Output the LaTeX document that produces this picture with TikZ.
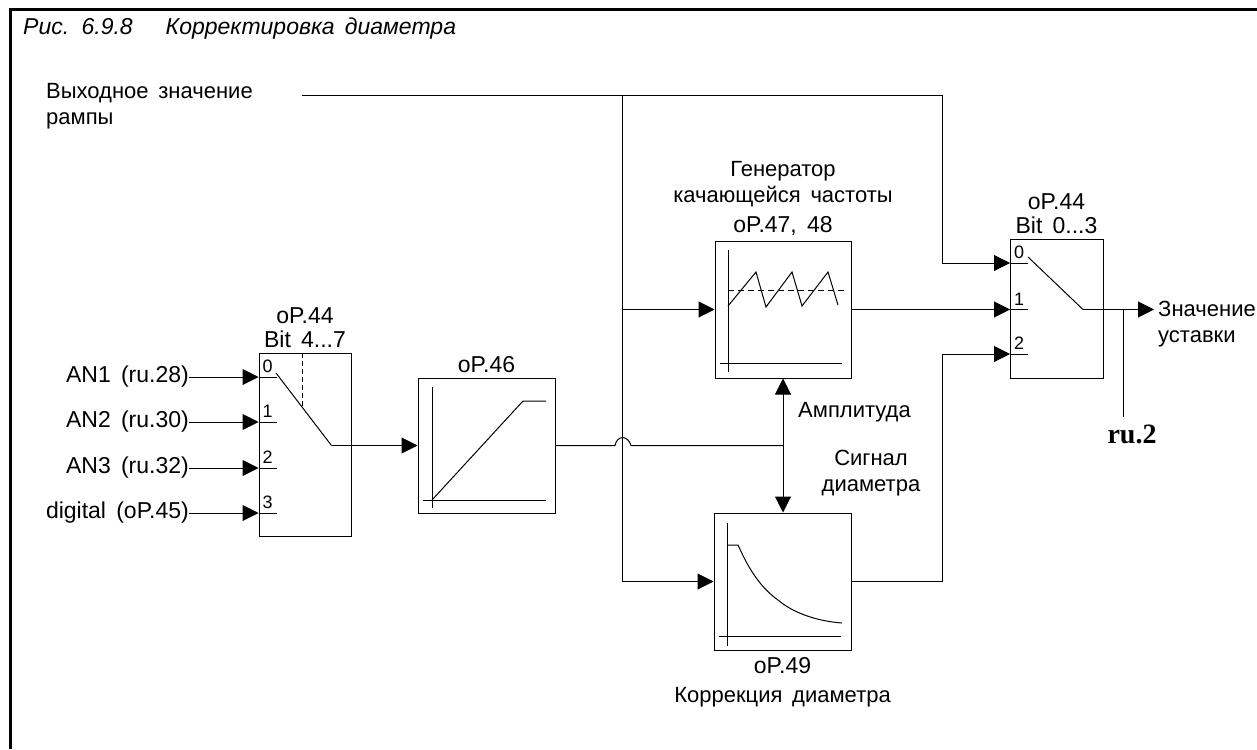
\documentclass[tikz,border=0pt]{standalone}
\usepackage{fontspec}
\setmainfont{Liberation Sans}[WordSpace=1.6]
\newfontfamily\refserif{Liberation Serif}
\usepackage{xcolor}
\usetikzlibrary{positioning, arrows.meta}

\begin{document}
\begin{tikzpicture}[
  x=1pt, y=-1pt,
  block/.style={draw, line width=1pt, inner sep=0pt},
  lbl/.style={font=\fontsize{23}{24}\selectfont, inner sep=0pt, align=center},
  small/.style={font=\fontsize{22}{26}\selectfont, inner sep=0pt, align=center},
  num/.style={font=\fontsize{18}{18}\selectfont, inner sep=0pt},
  wire/.style={line width=1pt},
  arrow/.style={-{Triangle[length=16pt, width=16pt]}, line width=1pt},
  dblarrow/.style={{Triangle[length=16pt, width=16pt]}-{Triangle[length=16pt, width=16pt]}, line width=1pt}
]
\useasboundingbox (0,0) rectangle (1257,749);
% frame
\draw[line width=3pt] (10,749) -- (10,10) -- (1257,10);
\node[small, font=\itshape\fontsize{23}{26}\selectfont, anchor=base west] (title) at (23,35) {Рис. 6.9.8\hspace{33pt}Корректировка диаметра};
\node[small, align=left, anchor=north west] (ramp) at (46,83) {Выходное значение\\рампы};

% blocks
\node[block, minimum width=92pt, minimum height=183pt] (swa) at (305,444.5) {};
\node[block, minimum width=137pt, minimum height=135pt] (scale) at (486.5,445.5) {};
\node[block, minimum width=136pt, minimum height=137pt] (gen) at (783,309.5) {};
\node[block, minimum width=137pt, minimum height=137pt] (corr) at (782.5,581.5) {};
\node[block, minimum width=93pt, minimum height=139pt] (swb) at (1056.5,308.5) {};

% captions
\node[lbl, above=5pt of swa] (swacap) {oP.44\\Bit 4...7};
\node[lbl, above=5pt of scale] (scalecap) {oP.46};
\node[lbl, above=5pt of swb] (swbcap) {oP.44\\Bit 0...3};
\node[lbl, above=5pt of gen] (gencap) {oP.47, 48};
\node[small, above=9pt of gencap] (genname) {Генератор\\качающейся частоты};
\node[lbl, below=7pt of corr] (corrcap) {oP.49};
\node[small, below=13pt of corrcap] (corrname) {Коррекция диаметра};
\node[small, anchor=west] (amp) at (798,412) {Амплитуда};
\node[small, anchor=center] (sig) at (871,473) {Сигнал\\диаметра};
\node[small, align=left, anchor=west] (setval) at (1158,324) {Значение\\уставки};
\node[font=\refserif\bfseries\fontsize{28}{30}\selectfont, inner sep=0pt, anchor=base] (rutwo) at (1132,443) {ru.2};

% inputs of the first switch
\node[lbl, anchor=east] (ana) at (189,377) {AN1 (ru.28)};
\node[lbl, anchor=east] (anb) at (189,422) {AN2 (ru.30)};
\node[lbl, anchor=east] (anc) at (189,468) {AN3 (ru.32)};
\node[lbl, anchor=east] (dig) at (189,513) {digital (oP.45)};
\foreach \src/\val in {ana/0, anb/1, anc/2, dig/3} {
  \draw[arrow] (\src.east) -- (\src.east -| swa.west);
  \draw[wire] (\src.east -| swa.west) -- ++(18,0);
  \node[num, anchor=base west] (swa\val) at ([xshift=4pt,yshift=4.5pt]\src.east -| swa.west) {\val};
}
\coordinate (swaout) at (331.5,445.5);
\draw[wire] (276,373) -- (swaout);
\draw[wire, dash pattern=on 5pt off 3pt] (302,353) -- (302,406);
\draw[arrow] (swaout) -- (scale.west);

% inputs of the second switch
\coordinate (swbina) at (1010,263);
\coordinate (swbinb) at (1010,309.5);
\coordinate (swbinc) at (1010,354);
\foreach \src/\val in {swbina/0, swbinb/1, swbinc/2} {
  \draw[wire] (\src) -- ++(18,0);
  \node[num, anchor=base west] (swb\val) at ([xshift=4pt,yshift=4.5pt]\src) {\val};
}
\coordinate (swbout) at (1083,309.5);
\coordinate (setin) at (1154,309.5);
\coordinate (rutap) at (1123,309.5);
\coordinate (ruend) at (1123,417);
\draw[wire] (1028,257) -- (swbout);
\draw[arrow] (swbout) -- (setin);
\draw[wire] (rutap) -- (ruend);

% buses
\coordinate (rampend) at (302,96);
\coordinate (busl) at (622,96);
\coordinate (busr) at (942,96);
\draw[arrow] (rampend) -- (busr) |- (swbina);
\draw[wire] (busl) -- (busl |- corr.west);
\draw[arrow] (busl |- gen.west) -- (gen.west);
\draw[arrow] (busl |- corr.west) -- (corr.west);
\draw[arrow] (gen.east) -- (swbinb);
\draw[arrow] (corr.east) -| (busr |- swbinc) -- (swbinc);

% diameter signal with the jump over the bus
\draw[wire] (scale.east) -- (615,445.5) .. controls (617,435) and (628,435) .. (631,445.5) -- (gen.south |- scale.east);
\draw[dblarrow] (gen.south) -- (gen.south |- corr.north);

% characteristics
\draw[wire] (432,387) -- (432,508);
\draw[wire] (423,500) -- (546,500);
\draw[wire] (432,500) -- (523,401) -- (546,401);

\draw[wire] (728,250) -- (728,372);
\draw[wire] (720,363) -- (842,363);
\draw[wire] (728,306) -- (756,272) -- (766,307) -- (792,272) -- (802,306) -- (828,272) -- (838,305);
\draw[wire, dash pattern=on 6pt off 4pt] (728,290) -- (845,290);

\draw[wire] (727,523) -- (727,646);
\draw[wire] (719,636) -- (841,636);
\draw[wire] (727,545) -- (738,545) .. controls (746,563) and (758,586) .. (778,600)
  .. controls (792,612) and (815,621) .. (842,623);
\end{tikzpicture}
\end{document}
